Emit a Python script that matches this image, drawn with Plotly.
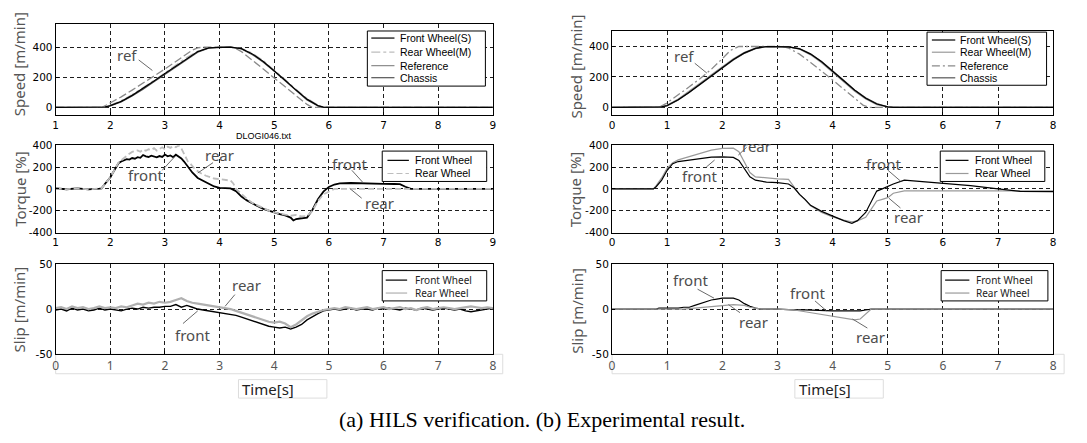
import plotly.graph_objects as go

W, H = 1087, 443

# ---------------- data ----------------
# (a) HILS: speed [m/min], time 1..9 s
LS_T = [1.0, 1.5, 1.8, 1.9, 2.0, 2.2, 2.4, 2.6, 2.8, 3.0, 3.2, 3.4, 3.6, 3.8, 4.0, 4.2, 4.4, 4.6, 4.8, 5.0,
        5.2, 5.4, 5.6, 5.8, 5.9, 6.0, 7.0, 8.0, 9.0]
LS_FRONT = [0, 0, 0, 3, 12, 40, 80, 125, 175, 225, 275, 325, 370, 395, 400, 400, 390, 355, 305, 245,
            180, 115, 55, 12, 2, 0, 0, 0, 0]
LS_REAR = [0, 0, 1, 5, 15, 45, 85, 130, 180, 230, 282, 332, 373, 396, 400, 400, 392, 360, 310, 250,
           185, 120, 60, 15, 3, 0, 0, 0, 0]
LS_CHASSIS = [0, 0, 0, 2, 10, 36, 76, 120, 170, 220, 270, 320, 366, 393, 400, 400, 388, 350, 300, 240,
              175, 110, 50, 10, 1, 0, 0, 0, 0]
LS_REF_T = [1.0, 1.85, 1.95, 2.0, 2.2, 2.4, 2.6, 2.8, 3.0, 3.2, 3.4, 3.5, 3.6, 3.7, 4.2, 4.3, 4.4, 4.6, 4.8, 5.0,
            5.2, 5.4, 5.6, 5.7, 9.0]
LS_REF = [0, 0, 20, 30, 70, 115, 160, 205, 255, 305, 355, 380, 395, 400, 400, 390, 370, 315, 255, 195,
          135, 75, 20, 0, 0]

# (a) HILS: torque [%]
LT_F_T = [1.0, 1.2, 1.4, 1.6, 1.8, 1.84, 1.9, 1.95, 2.0, 2.05, 2.1, 2.15, 2.2, 2.25, 2.3, 2.35, 2.4, 2.45, 2.5, 2.55,
          2.6, 2.65, 2.7, 2.75, 2.8, 2.85, 2.9, 2.95, 3.0, 3.05, 3.1, 3.15, 3.2, 3.25, 3.3, 3.35, 3.42, 3.5, 3.6, 3.7,
          3.8, 3.9, 4.0, 4.1, 4.2, 4.3, 4.4, 4.5, 4.6, 4.7, 4.8, 4.9, 5.0, 5.1, 5.2, 5.3, 5.35, 5.4, 5.5, 5.6,
          5.7, 5.8, 5.9, 6.0, 6.1, 6.2, 6.4, 6.6, 6.8, 7.0, 7.2, 7.3, 7.4, 7.5, 8.0, 9.0]
LT_FRONT = [4, -3, 5, -4, 2, 5, 45, 75, 105, 150, 195, 235, 250, 262, 272, 268, 282, 276, 290, 284,
            310, 298, 292, 304, 296, 288, 300, 292, 314, 298, 306, 290, 312, 298, 278, 250, 200, 150, 100, 72,
            45, 22, 10, 6, 4, -20, -70, -105, -135, -158, -182, -200, -215, -230, -242, -262, -288, -275, -268, -262,
            -190, -95, -25, 18, 40, 50, 54, 50, 48, 46, 45, 43, 20, 0, 0, 0]
LT_R_T = [1.0, 1.2, 1.4, 1.6, 1.8, 1.84, 1.9, 1.95, 2.0, 2.05, 2.1, 2.15, 2.2, 2.25, 2.3, 2.35, 2.4, 2.45, 2.5, 2.55,
          2.6, 2.65, 2.7, 2.75, 2.8, 2.85, 2.9, 2.95, 3.0, 3.05, 3.1, 3.15, 3.2, 3.25, 3.3, 3.36, 3.42, 3.48, 3.55, 3.65,
          3.75, 3.9, 4.0, 4.1, 4.2, 4.25, 4.3, 4.4, 4.5, 4.6, 4.7, 4.8, 4.9, 5.0, 5.1, 5.2, 5.3, 5.4, 5.5, 5.6,
          5.7, 5.8, 5.9, 6.0, 6.1, 6.3, 7.0, 8.0, 9.0]
LT_REAR = [3, -2, 4, -3, 3, 5, 45, 75, 105, 150, 200, 240, 262, 285, 305, 322, 338, 346, 352, 340,
           360, 348, 362, 356, 372, 350, 368, 380, 362, 386, 375, 392, 380, 398, 370, 310, 250, 222, 180, 145,
           120, 95, 90, 82, 76, 50, 0, -45, -92, -128, -152, -178, -198, -215, -228, -236, -245, -238, -252, -248,
           -200, -110, -50, -22, 0, 0, 0, 0, 0]

# (a) HILS: slip [m/min], time 0..8 s
LSL_T = [0.0, 0.1, 0.2, 0.3, 0.4, 0.5, 0.6, 0.7, 0.8, 0.9, 1.0,
         1.1, 1.2, 1.3, 1.4, 1.5, 1.6, 1.7, 1.8, 1.9, 2.0,
         2.1, 2.2, 2.3, 2.4, 2.5, 2.6, 2.7, 2.8, 2.9, 3.0,
         3.1, 3.2, 3.3, 3.4, 3.5, 3.6, 3.7, 3.8, 3.9, 4.0,
         4.1, 4.2, 4.3, 4.4, 4.5, 4.6, 4.7, 4.8, 4.9, 5.0,
         5.1, 5.2, 5.3, 5.4, 5.5, 5.6, 5.7, 5.8, 5.9, 6.0,
         6.1, 6.2, 6.3, 6.4, 6.5, 6.6, 6.7, 6.8, 6.9, 7.0,
         7.1, 7.2, 7.3, 7.4, 7.5, 7.6, 7.7, 7.8, 7.9, 8.0]
LSL_FRONT = [-1, 0, -2, 1, -1, 0, -2, -1, 1, -1, 0,
             -1, -2, 0, 1, 0, 2, 1, 2, 2, 3,
             3, 5, 2, 4, 2, 0, -1, -2, -3, -4,
             -5, -6, -7, -9, -11, -13, -15, -17, -19, -20,
             -21, -20, -22, -20, -17, -12, -8, -5, -2, -1,
             0, -1, 0, 1, -1, 0, 0, -1, 1, 0,
             1, 0, -1, 1, 0, -1, 1, 0, -1, 0,
             1, 0, -1, 0, -2, -3, -2, -1, 0, 1]
LSL_REAR = [1, 2, 0, 3, 1, 2, 0, 1, 3, 1, 2,
            1, 3, 2, 4, 6, 5, 7, 6, 8, 7,
            8, 10, 12, 9, 7, 6, 5, 4, 3, 2,
            1, 0, -2, -4, -6, -8, -10, -12, -14, -15,
            -14, -16, -20, -17, -12, -8, -5, -3, -1, 0,
            1, 0, 2, 1, 0, 1, 2, 0, 1, 2,
            0, 1, 2, 0, 1, -1, 1, 2, 0, 1,
            2, 1, 0, 1, 2, 3, 2, 1, 2, 1]

# (b) Experiment: speed [m/min], time 0..8 s
RS_T = [0, 0.8, 0.9, 1.0, 1.2, 1.4, 1.6, 1.8, 2.0, 2.2, 2.4, 2.6, 2.8, 3.0, 3.2, 3.4, 3.6, 3.8, 4.0, 4.2,
        4.4, 4.6, 4.8, 5.0, 5.1, 6.0, 7.0, 8.0]
RS_FRONT = [0, 0, 3, 12, 50, 100, 155, 210, 265, 315, 358, 388, 400, 400, 398, 385, 350, 300, 240, 175,
            112, 60, 22, 3, 0, 0, 0, 0]
RS_REAR = [0, 0, 5, 15, 55, 105, 160, 215, 270, 320, 362, 390, 400, 400, 397, 382, 345, 293, 233, 168,
           105, 55, 18, 2, 0, 0, 0, 0]
RS_CHASSIS = [0, 0, 2, 10, 48, 97, 152, 207, 262, 312, 355, 386, 399, 400, 398, 386, 352, 302, 243, 178,
              115, 63, 25, 4, 0, 0, 0, 0]
RS_REF_T = [0, 0.85, 1.0, 1.2, 1.4, 1.6, 1.8, 2.0, 2.15, 2.3, 3.1, 3.2, 3.4, 3.6, 3.8, 4.0, 4.2, 4.4, 4.55, 4.65, 8.0]
RS_REF = [0, 0, 30, 80, 135, 190, 250, 320, 375, 400, 400, 390, 350, 295, 240, 180, 120, 60, 15, 0, 0]

# (b) Experiment: torque [%]
RT_T = [0, 0.75, 0.8, 0.9, 1.0, 1.1, 1.2, 1.4, 1.6, 1.8, 2.0, 2.2, 2.3, 2.4, 2.5, 2.6, 2.8, 3.0, 3.2, 3.3,
        3.4, 3.5, 3.6, 3.8, 4.0, 4.2, 4.35, 4.45, 4.6, 4.7, 4.8, 4.9, 5.0, 5.1, 5.3, 5.5, 6.0, 6.5, 7.0, 7.2,
        7.4, 8.0]
RT_FRONT = [0, 0, 20, 80, 170, 230, 250, 265, 280, 290, 292, 288, 260, 185, 110, 80, 62, 58, 45, 10,
            -50, -95, -150, -205, -250, -290, -315, -290, -215, -120, -20, 0, 25, 45, 80, 72, 50, 30, 0, -10,
            -22, -25]
RT_REAR = [0, 0, 30, 100, 190, 240, 265, 295, 330, 355, 370, 372, 340, 250, 150, 110, 98, 92, 88, 20,
           -50, -100, -155, -215, -255, -285, -300, -292, -260, -185, -110, -95, -80, -40, -18, -18, -18, -18, -18, -18,
           -18, -18]

# (b) Experiment: slip [m/min]
RSL_F_T = [0, 0.8, 0.85, 1.2, 1.3, 1.4, 1.5, 1.6, 1.7, 1.8, 1.9, 2.0, 2.1, 2.2, 2.3, 2.4, 2.5, 2.6, 2.7, 3.0,
           3.3, 3.5, 4.0, 4.5, 4.6, 4.7, 5.0, 8.0]
RSL_FRONT = [0, 0, 1, 1, 2, 2, 4, 6, 8, 10, 11, 12, 12, 12, 10, 6, 3, 1, 0, 0,
             -1, -1, -2, -2, -1, 0, 0, 0]
RSL_R_T = [0, 1.3, 1.5, 1.7, 1.9, 2.0, 2.2, 2.4, 2.5, 2.6, 2.7, 3.0, 3.3, 3.5, 3.7, 3.9, 4.1, 4.3, 4.4, 4.5,
           4.6, 4.7, 5.0, 8.0]
RSL_REAR = [0, 0, 1, 2, 3, 4, 5, 4, 2, 1, 0, 0, -1, -3, -5, -7, -9, -11, -12, -11,
            -6, 0, 0, 0]

# tick values / labels
X_TICKS_A = [1, 2, 3, 4, 5, 6, 7, 8, 9]
X_TICKS_B = [0, 1, 2, 3, 4, 5, 6, 7, 8]
SPEED_TICKS = [0, 200, 400]
SPEED_LABELS = ["0", "200", "400"]
TORQUE_TICKS = [-400, -200, 0, 200, 400]
TORQUE_LABELS = ["-400", "-200", "0", "200", "400"]
SLIP_TICKS = [-50, 0, 50]
SLIP_LABELS = ["-50", "0", "50"]
SPEED_NAMES = ["Front Wheel(S)", "Rear Wheel(M)", "Reference", "Chassis"]
WHEEL_NAMES = ["Front Wheel", "Rear Wheel"]
Y_TITLES = ["Speed [m/min]", "Torque [%]", "Slip [m/min]"]
CAPTION = "(a) HILS verification. (b) Experimental result."

# ---------------- layout helpers ----------------
def px(v):
    return v / W


def py(v):
    return 1 - v / H


LX = [px(53), px(493)]
RX = [px(613), px(1057)]
LSPEED_Y = [py(112), py(19)]
RSPEED_Y = [py(112), py(26)]
TORQ_Y = [py(233), py(143)]
SLIP_Y = [py(358), py(265)]

MATLAB_FONT = dict(family="DejaVu Sans", size=10.5, color="black")
SEGOE_FONT = dict(family="Noto Sans", size=12, color="#555555")
LEG_FONT = dict(family="Liberation Sans", size=10.5, color="black")
LEG_FONT2 = dict(family="Noto Sans", size=10, color="#222222")
NOTE_FONT = dict(family="Noto Sans", size=15, color="#4d4d4d")


def axis(domain, rng, tickvals, anchor, font, ticktext=None):
    d = dict(domain=domain, range=rng, tickvals=tickvals, anchor=anchor,
             showline=True, linecolor="black", linewidth=1, mirror=True,
             zeroline=False, ticks="inside", ticklen=3, tickcolor="black",
             tickfont=font, showgrid=True, gridcolor="#1e1e1e", gridwidth=1,
             griddash="4px,3px", fixedrange=True)
    if ticktext is not None:
        d["ticktext"] = ticktext
    return d


fig = go.Figure()


def line(xa, ya, x, y, color, width=1.2, dash="solid"):
    fig.add_trace(go.Scatter(x=x, y=y, xaxis=xa, yaxis=ya, mode="lines",
                             line=dict(color=color, width=width, dash=dash),
                             showlegend=False, hoverinfo="skip"))


# styles
C_FRONT = "#000000"
C_REAR_A = "#bdbdbd"
C_REF = "#8a8a8a"
C_CHASSIS = "#555555"
C_REAR_B = "#9a9a9a"

# (a) speed
line("x", "y", LS_REF_T, LS_REF, C_REF, 1.3, "8px,3px")
line("x", "y", LS_T, LS_REAR, C_REAR_A, 1.2, "dashdot")
line("x", "y", LS_T, LS_CHASSIS, C_CHASSIS, 1.2)
line("x", "y", LS_T, LS_FRONT, C_FRONT, 1.2)
# (b) speed
line("x2", "y2", RS_REF_T, RS_REF, C_REF, 1.3, "8px,3px,2px,3px")
line("x2", "y2", RS_T, RS_REAR, C_REAR_B, 1.2)
line("x2", "y2", RS_T, RS_CHASSIS, C_CHASSIS, 1.2)
line("x2", "y2", RS_T, RS_FRONT, C_FRONT, 1.2)
# (a) torque
line("x3", "y3", LT_F_T, LT_FRONT, C_FRONT, 1.8)
line("x3", "y3", LT_R_T, LT_REAR, C_REAR_A, 1.8, "6px,3px")
# (b) torque
line("x4", "y4", RT_T, RT_REAR, C_REAR_B, 1.2)
line("x4", "y4", RT_T, RT_FRONT, C_FRONT, 1.2)
# (a) slip
line("x5", "y5", LSL_T, LSL_FRONT, C_FRONT, 1.4)
line("x5", "y5", LSL_T, LSL_REAR, "#b0b0b0", 2.2)
# (b) slip
line("x6", "y6", RSL_F_T, RSL_FRONT, C_FRONT, 1.2)
line("x6", "y6", RSL_R_T, RSL_REAR, C_REAR_B, 1.2)

shapes = []
annos = []


def legend(xa, ya, box, rows, lx, tx, names, styles, font):
    xr, yr = f"{xa} domain", f"{ya} domain"
    shapes.append(dict(type="rect", xref=xr, yref=yr, x0=box[0], y0=box[1], x1=box[2], y1=box[3],
                       line=dict(color="black", width=1), fillcolor="white", layer="above"))
    for name, yv, st in zip(names, rows, styles):
        shapes.append(dict(type="line", xref=xr, yref=yr, x0=lx[0], x1=lx[1], y0=yv, y1=yv,
                           line=dict(color=st[0], width=1.2, dash=st[1]), layer="above"))
        annos.append(dict(xref=xr, yref=yr, x=tx, y=yv, text=name, showarrow=False, borderpad=0,
                          xanchor="left", yanchor="middle", font=font))


legend("x", "y", (0.713, 0.319, 0.983, 0.928), [0.85, 0.695, 0.545, 0.412], (0.722, 0.775), 0.785,
       SPEED_NAMES, [(C_FRONT, "solid"), (C_REAR_A, "dashdot"), (C_REF, "solid"), (C_CHASSIS, "solid")], LEG_FONT)
legend("x2", "y2", (0.714, 0.355, 0.985, 0.99), [0.896, 0.75, 0.587, 0.444], (0.725, 0.778), 0.786,
       SPEED_NAMES, [(C_FRONT, "solid"), (C_REAR_B, "solid"), (C_REF, "8px,3px,2px,3px"), (C_CHASSIS, "solid")],
       LEG_FONT)
legend("x3", "y3", (0.747, 0.585, 0.986, 0.932), [0.826, 0.676], (0.759, 0.808), 0.819,
       WHEEL_NAMES, [(C_FRONT, "solid"), (C_REAR_A, "6px,3px")], LEG_FONT)
legend("x4", "y4", (0.744, 0.585, 0.981, 0.932), [0.826, 0.676], (0.756, 0.808), 0.82,
       WHEEL_NAMES, [(C_FRONT, "solid"), (C_REAR_B, "solid")], LEG_FONT)
legend("x5", "y5", (0.747, 0.59, 0.986, 0.925), [0.82, 0.677], (0.755, 0.804), 0.819,
       WHEEL_NAMES, [(C_FRONT, "solid"), ("#b0b0b0", "solid")], LEG_FONT2)
legend("x6", "y6", (0.746, 0.59, 0.988, 0.925), [0.82, 0.677], (0.755, 0.81), 0.823,
       WHEEL_NAMES, [(C_FRONT, "solid"), (C_REAR_B, "solid")], LEG_FONT2)


def note(xa, ya, x, y, text, x0, y0, x1, y1):
    annos.append(dict(xref=xa, yref=ya, x=x, y=y, text=text, showarrow=False, font=NOTE_FONT,
                      xanchor="center", yanchor="middle"))
    shapes.append(dict(type="line", xref=xa, yref=ya, x0=x0, y0=y0, x1=x1, y1=y1,
                       line=dict(color="#6a6a6a", width=1)))


note("x", "y", 2.3, 350, "ref", 2.52, 315, 2.77, 245)
note("x2", "y2", 1.3, 339, "ref", 1.5, 290, 1.72, 225)
note("x3", "y3", 4.0, 310, "rear", 3.88, 240, 3.6, 145)
note("x3", "y3", 2.64, 130, "front", 2.95, 170, 3.18, 295)
note("x3", "y3", 6.37, 225, "front", 6.42, 170, 6.62, 60)
note("x3", "y3", 6.92, -125, "rear", 6.6, -85, 6.38, 5)
note("x4", "y4", 2.62, 394, "rear", 2.44, 380, 2.29, 309)
note("x4", "y4", 1.58, 122, "front", 1.71, 200, 1.86, 264)
note("x4", "y4", 4.93, 228, "front", 5.0, 172, 5.23, 72)
note("x4", "y4", 5.38, -255, "rear", 5.23, -174, 5.02, -85)
note("x5", "y5", 3.5, 27, "rear", 3.28, 16, 3.1, 3)
note("x5", "y5", 2.5, -29, "front", 2.33, -16, 2.6, -2)
note("x6", "y6", 1.43, 32, "front", 1.55, 22, 1.85, 12)
note("x6", "y6", 2.57, -14, "rear", 2.32, -4, 2.11, 5)
note("x6", "y6", 3.54, 18, "front", 3.68, 9, 3.89, -2)
note("x6", "y6", 4.69, -31, "rear", 4.63, -21, 4.36, -11)

# y-axis titles
YT_FONT = dict(family="Noto Sans", size=15, color="#555555")
for (xp, yp, t) in [(16, 60, Y_TITLES[0]), (17, 188, Y_TITLES[1]), (16, 312, Y_TITLES[2]),
                    (577, 62, Y_TITLES[0]), (576, 189, Y_TITLES[1]), (577, 313, Y_TITLES[2])]:
    annos.append(dict(xref="paper", yref="paper", x=px(xp), y=py(yp), text=t, textangle=-90,
                      showarrow=False, font=YT_FONT, xanchor="center", yanchor="middle"))

# file name label
annos.append(dict(xref="paper", yref="paper", x=px(263), y=py(134), text="DLOGI046.txt", showarrow=False,
                  borderpad=0, font=dict(family="Liberation Sans", size=9, color="black"),
                  xanchor="center", yanchor="middle"))

# Time[s] labels with their boxes, and tick-label frames
for (x0, y0, x1, y1) in [(53, 358, 503, 378), (613, 358, 1068, 378), (237, 384, 326, 403), (797, 384, 886, 403)]:
    shapes.append(dict(type="rect", xref="paper", yref="paper", x0=px(x0), x1=px(x1), y0=py(y1), y1=py(y0),
                       line=dict(color="#dddddd", width=1), layer="below"))
for (xp, yp) in [(239, 393.5), (799, 393.5)]:
    annos.append(dict(xref="paper", yref="paper", x=px(xp), y=py(yp), text="Time[s]", showarrow=False,
                      font=dict(family="Noto Sans", size=15, color="#222222"), xanchor="left", yanchor="middle"))

annos.append(dict(xref="paper", yref="paper", x=px(542), y=py(425), text=CAPTION, showarrow=False,
                  font=dict(family="Liberation Serif", size=22, color="black"), xanchor="center",
                  yanchor="middle"))

fig.update_layout(
    width=W, height=H, margin=dict(l=0, r=0, t=0, b=0),
    paper_bgcolor="white", plot_bgcolor="white", showlegend=False,
    xaxis=axis(LX, [1, 9], X_TICKS_A, "y", MATLAB_FONT),
    yaxis=axis(LSPEED_Y, [-50, 550], SPEED_TICKS, "x", MATLAB_FONT, SPEED_LABELS),
    xaxis2=axis(RX, [0, 8], X_TICKS_B, "y2", MATLAB_FONT),
    yaxis2=axis(RSPEED_Y, [-50, 500], SPEED_TICKS, "x2", MATLAB_FONT, SPEED_LABELS),
    xaxis3=axis(LX, [1, 9], X_TICKS_A, "y3", MATLAB_FONT),
    yaxis3=axis(TORQ_Y, [-400, 400], TORQUE_TICKS, "x3", MATLAB_FONT, TORQUE_LABELS),
    xaxis4=axis(RX, [0, 8], X_TICKS_B, "y4", MATLAB_FONT),
    yaxis4=axis(TORQ_Y, [-400, 400], TORQUE_TICKS, "x4", MATLAB_FONT, TORQUE_LABELS),
    xaxis5=axis(LX, [0, 8], X_TICKS_B, "y5", SEGOE_FONT),
    yaxis5=axis(SLIP_Y, [-50, 50], SLIP_TICKS, "x5", MATLAB_FONT, SLIP_LABELS),
    xaxis6=axis(RX, [0, 8], X_TICKS_B, "y6", SEGOE_FONT),
    yaxis6=axis(SLIP_Y, [-50, 50], SLIP_TICKS, "x6", MATLAB_FONT, SLIP_LABELS),
    shapes=shapes, annotations=annos,
)

# remove the default page margin so the figure sits at the top-left corner of the window
fig.write_html("out.html", config={"displayModeBar": False},
               post_script="document.body.style.margin='0px';")
